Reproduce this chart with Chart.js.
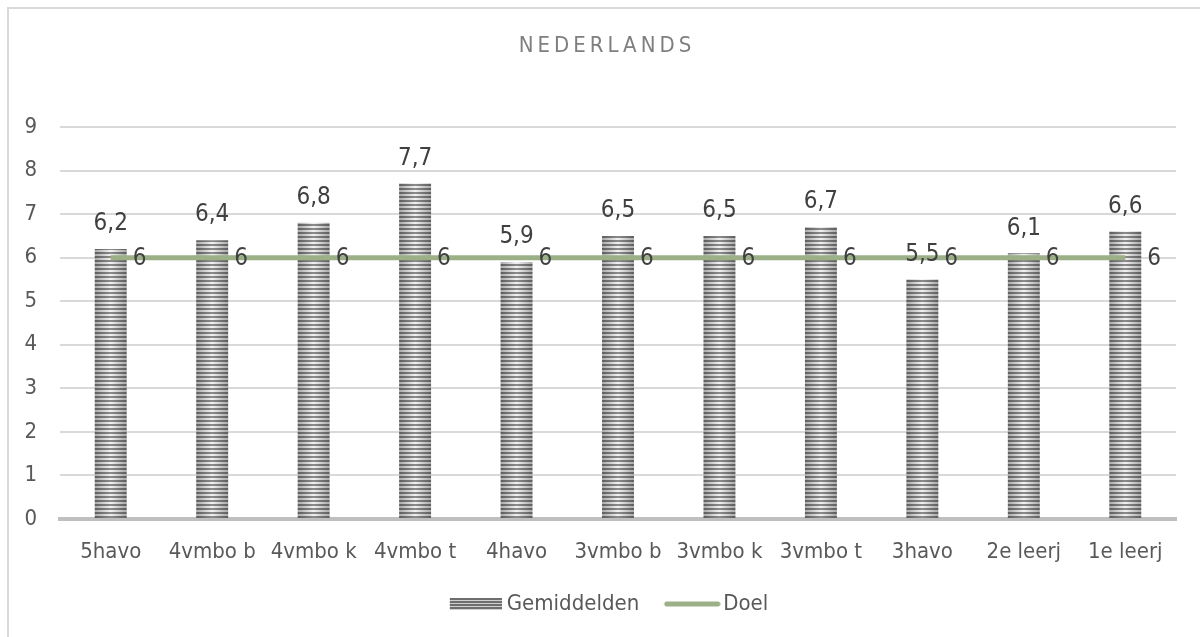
<!DOCTYPE html>
<html>
<head>
<meta charset="utf-8">
<script src="https://cdn.jsdelivr.net/npm/chart.js@4"></script>
<style>
    html, body { margin: 0; padding: 0; background: #fff; }
    .frame { position: absolute; left: 7px; top: 7px; width: 1300px; height: 700px; border: 2px solid #d9d9d9; }
    .wrap { position: absolute; left: 0; top: 0; width: 1200px; height: 637px; }
</style>
</head>
<body>
<div class="frame"></div>
<div class="wrap"><canvas id="chart" width="1200" height="637"></canvas></div>
<script>
const categories = ['5havo', '4vmbo b', '4vmbo k', '4vmbo t', '4havo', '3vmbo b', '3vmbo k', '3vmbo t', '3havo', '2e leerj', '1e leerj'];
const gemiddelden = [6.2, 6.4, 6.8, 7.7, 5.9, 6.5, 6.5, 6.7, 5.5, 6.1, 6.6];
const doel = [6, 6, 6, 6, 6, 6, 6, 6, 6, 6, 6];
const yTicks = [0, 1, 2, 3, 4, 5, 6, 7, 8, 9];

const FONT = "'DejaVu Sans Condensed', 'DejaVu Sans', sans-serif";
const BAR_W = 32;

// one stripe tile, shaded darker at the edges like a cylinder
const stripeTile = (function () {
    const c = document.createElement('canvas');
    c.width = BAR_W; c.height = 4;
    const g = c.getContext('2d');
    const light = g.createLinearGradient(0, 0, BAR_W, 0);
    light.addColorStop(0, '#a8a8a8');
    light.addColorStop(0.5, '#f2f2f2');
    light.addColorStop(1, '#a8a8a8');
    const dark = g.createLinearGradient(0, 0, BAR_W, 0);
    dark.addColorStop(0, '#5e5e5e');
    dark.addColorStop(0.5, '#8c8c8c');
    dark.addColorStop(1, '#5e5e5e');
    g.fillStyle = light; g.fillRect(0, 0, BAR_W, 4);
    g.fillStyle = dark; g.fillRect(0, 0, BAR_W, 2);
    return c;
})();

function barFill(c) {
    const xs = c.chart.scales && c.chart.scales.x;
    const pat = c.chart.ctx.createPattern(stripeTile, 'repeat');
    if (xs && xs.width && c.dataIndex !== undefined) {
        const left = xs.getPixelForValue(c.dataIndex) - BAR_W / 2;
        pat.setTransform(new DOMMatrix([1, 0, 0, 1, left, 0]));
    }
    return pat;
}

// legend swatches, with empty room on the left so they sit close to their text
function legendBar() {
    const c = document.createElement('canvas');
    c.width = 64; c.height = 12;
    const g = c.getContext('2d');
    for (let y = 0; y < 12; y += 3) {
        g.fillStyle = '#6e6e6e'; g.fillRect(12, y, 52, 2);
        g.fillStyle = '#cfcfcf'; g.fillRect(12, y + 2, 52, 1);
    }
    return c;
}

function legendLine() {
    const c = document.createElement('canvas');
    c.width = 69; c.height = 6;
    const g = c.getContext('2d');
    g.strokeStyle = '#9cb087';
    g.lineWidth = 5;
    g.lineCap = 'round';
    g.beginPath(); g.moveTo(15, 3); g.lineTo(66, 3); g.stroke();
    return c;
}

const titleAndLabels = {
    id: 'titleAndLabels',
    afterLayout(chart) {
        // nudge the legend row to the right, as in the original
        chart.legend.left += 18;
        chart.legend.right += 18;
    },
    afterDraw(chart) {
        const ctx = chart.ctx;
        ctx.save();
        ctx.font = '22px ' + FONT;
        ctx.fillStyle = '#7f7f7f';
        ctx.textAlign = 'center';
        ctx.textBaseline = 'middle';
        if ('letterSpacing' in ctx) ctx.letterSpacing = '4px';
        ctx.fillText('NEDERLANDS', 607, 46);
        ctx.restore();
    },
    afterDatasetsDraw(chart) {
        const ctx = chart.ctx;
        ctx.save();
        ctx.font = '24px ' + FONT;
        ctx.fillStyle = '#404040';
        ctx.textBaseline = 'middle';
        chart.getDatasetMeta(0).data.forEach((bar, i) => {
            ctx.textAlign = 'center';
            ctx.fillText(String(gemiddelden[i]).replace('.', ','), bar.x, bar.y - 25);
        });
        chart.getDatasetMeta(1).data.forEach((pt, i) => {
            ctx.textAlign = 'left';
            ctx.fillText(String(doel[i]), pt.x + 22, pt.y + 1);
        });
        ctx.restore();
    }
};

const ctx = document.getElementById('chart').getContext('2d');
new Chart(ctx, {
    type: 'bar',
    data: {
        labels: categories,
        datasets: [{
            label: 'Gemiddelden',
            data: gemiddelden,
            backgroundColor: barFill,
            borderWidth: 0,
            barPercentage: 0.315,
            categoryPercentage: 1,
            pointStyle: legendBar(),
            order: 2
        }, {
            type: 'line',
            label: 'Doel',
            data: doel,
            borderColor: '#9cb087',
            backgroundColor: '#9cb087',
            borderWidth: 5,
            pointRadius: 0,
            pointStyle: legendLine(),
            order: 1
        }]
    },
    options: {
        responsive: false,
        animation: false,
        layout: { padding: { top: 127, right: 24, bottom: 12, left: 0 } },
        plugins: {
            legend: {
                position: 'bottom',
                labels: {
                    usePointStyle: true,
                    pointStyleWidth: 52,
                    color: '#595959',
                    font: { family: FONT, size: 22 },
                    padding: 21,
                    sort: (a, b) => a.datasetIndex - b.datasetIndex
                }
            },
            tooltip: { enabled: false }
        },
        scales: {
            x: {
                afterFit: s => { s.height = 53; },
                grid: { display: false, drawTicks: false },
                border: { color: '#bfbfbf', width: 4 },
                ticks: { color: '#595959', font: { family: FONT, size: 22 }, padding: 20, maxRotation: 0 }
            },
            y: {
                min: 0,
                max: 9,
                afterBuildTicks: s => { s.ticks = yTicks.map(v => ({ value: v })); },
                afterFit: s => { s.width = 60; },
                grid: { color: '#d9d9d9', lineWidth: 2, drawTicks: false },
                border: { display: false },
                ticks: { color: '#595959', font: { family: FONT, size: 22 }, padding: 23 }
            }
        }
    },
    plugins: [titleAndLabels]
});
</script>
</body>
</html>
